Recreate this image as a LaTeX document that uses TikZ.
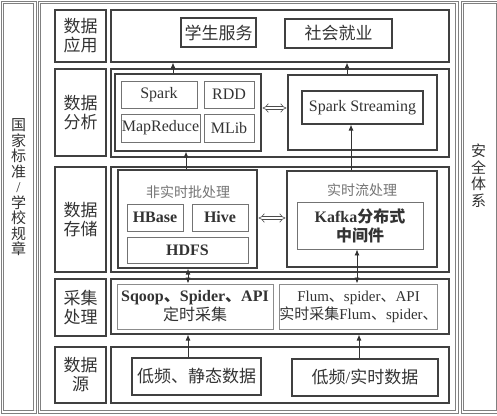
\documentclass[tikz,border=0pt]{standalone}
\usepackage{fontspec}
\setmainfont{Liberation Serif}
\newfontfamily\cjk{Noto Sans CJK SC}
\newcommand{\zh}[1]{{\cjk #1}}
\usetikzlibrary{arrows.meta}

\begin{document}
\begin{tikzpicture}[x=1pt,y=-1pt,
    sz/.style 2 args={minimum width=#1pt, minimum height=#2pt},
    outerbox/.style={draw=black!50, line width=0.8pt},
    box/.style={draw=black!75, line width=1.1pt, inner sep=0pt, text=black!80},
    subbox/.style={draw=black!55, line width=0.9pt, inner sep=0pt, text=black!80},
    lightbox/.style={draw=black!45, line width=1pt, inner sep=0pt, text=black!80},
    lbl/.style={box, sz={51}{#1}, align=center, font=\fontsize{17}{19}\selectfont},
    grouptitle/.style={text=black!55, font=\fontsize{14}{16}\selectfont},
    flow/.style={-{Latex[length=6pt,width=5pt]}, line width=0.9pt, black!80},
    flowboth/.style={{Latex[length=6pt,width=5pt]}-{Latex[length=6pt,width=5pt]}, line width=0.9pt, black!80},
    eqv/.style={double, double distance=2.6pt, line width=0.6pt, black!70, {Implies}-{Implies}, shorten <=1pt, shorten >=1pt}]

 \useasboundingbox (0,0) rectangle (497,415);

    % draw outer frames (two thin lines each)
    \foreach \d in {0,2.5} {
        \draw[outerbox] (1+\d,1+\d) rectangle (36-\d,413-\d);
        \draw[outerbox] (38+\d,1+\d) rectangle (458-\d,413-\d);
        \draw[outerbox] (461+\d,1+\d) rectangle (499-\d,413-\d);
    }
    \node (stdtext) at (18.5,187.5) [align=center, text=black!80, font=\fontsize{15}{15.5}\selectfont]
        {\zh{国}\\\zh{家}\\\zh{标}\\\zh{准}\\/\\\zh{学}\\\zh{校}\\\zh{规}\\\zh{章}};
    \node (safetext) at (478.5,175.5) [align=center, text=black!80, font=\fontsize{15}{16.5}\selectfont]
        {\zh{安}\\\zh{全}\\\zh{体}\\\zh{系}};

    % row labels
    \node[lbl=52]  (lblApp) at (80.5,36)    {\zh{数据}\\\zh{应用}};
    \node[lbl=87]  (lblAna) at (80.5,112.5) {\zh{数据}\\\zh{分析}};
    \node[lbl=105] (lblSto) at (80.5,219.5) {\zh{数据}\\\zh{存储}};
    \node[lbl=57]  (lblCol) at (80.5,307.5) {\zh{采集}\\\zh{处理}};
    \node[lbl=56]  (lblSrc) at (80.5,375)   {\zh{数据}\\\zh{源}};

    % row frames
    \node[box, sz={338}{52}]  (rowApp) at (280,36)    {};
    \node[box, sz={338}{88}]  (rowAna) at (280,113)   {};
    \node[box, sz={338}{105}] (rowSto) at (280,219.5) {};
    \node[box, sz={338}{55}]  (rowCol) at (280,306.5) {};
    \node[box, sz={338}{56}]  (rowSrc) at (280,375)   {};

    % data application
    \node[box, sz={75}{29}, font=\fontsize{17}{19}\selectfont]  (stu) at (218.5,32.5) {\zh{学生服务}};
    \node[box, sz={107}{29}, font=\fontsize{17}{19}\selectfont] (job) at (338.5,33.5) {\zh{社会就业}};

    % data analysis
    \node[box, sz={146}{77}] (batchAna) at (188,112.5) {};
    \node[box, sz={149}{75}] (streamAna) at (362.5,112.5) {};
    \node[subbox, sz={76}{27}, font=\fontsize{16}{18}\selectfont] (spark) at (159,94.5) {Spark};
    \node[subbox, sz={50}{27}, font=\fontsize{16}{18}\selectfont] (rdd) at (229,94.5) {RDD};
    \node[subbox, sz={79}{28}, font=\fontsize{16}{18}\selectfont] (mapred) at (160.5,128) {MapReduce};
    \node[subbox, sz={50}{28}, font=\fontsize{16}{18}\selectfont] (mlib) at (229,128) {MLib};
    \node[box, sz={121}{33}, font=\fontsize{16}{18}\selectfont] (sstream) at (362.5,107.5) {Spark Streaming};

    % data storage
    \node[box, sz={139}{98}] (batchSto) at (187.5,219) {};
    \node[box, sz={150}{96}] (streamSto) at (362,219) {};
    \node[grouptitle] (batchTitle) at (188,192) {\zh{非实时批处理}};
    \node[grouptitle] (streamTitle) at (362,190) {\zh{实时流处理}};
    \node[subbox, sz={56}{27}, font=\bfseries\fontsize{16}{18}\selectfont] (hbase) at (155,217.5) {HBase};
    \node[subbox, sz={56}{27}, font=\bfseries\fontsize{16}{18}\selectfont] (hive) at (220,217.5) {Hive};
    \node[subbox, sz={121}{26}, font=\bfseries\fontsize{16}{18}\selectfont] (hdfs) at (187.5,250) {HDFS};
    \node[subbox, sz={126}{47}, align=center, font=\bfseries\fontsize{16}{19}\selectfont] (kafka) at (360,225.5)
        {Kafka\zh{分布式}\\\zh{中间件}};

    % collection
    \node[lightbox, sz={156}{45}, align=center, font=\fontsize{16}{19}\selectfont] (sqoop) at (195,306.5)
        {\textbf{Sqoop\zh{、}Spider\zh{、}API}\\\zh{定时采集}};
    \node[lightbox, sz={157}{45}, align=center, font=\fontsize{15}{18}\selectfont] (flum) at (358.5,306.5)
        {Flum\zh{、}spider\zh{、}API\\\zh{实时采集}Flum\zh{、}spider\zh{、}};

    % data source
    \node[box, sz={129}{37}, font=\fontsize{17}{19}\selectfont] (low) at (196.5,376.5) {\zh{低频、静态数据}};
    \node[box, sz={146}{37}, font=\fontsize{17}{19}\selectfont] (rt) at (365,377.5) {\zh{低频}/\zh{实时数据}};

    % draw arrows
    \draw[flow] ([xshift=-15pt]batchAna.north) -- ([xshift=-15pt]batchAna.north |- rowApp.south);
    \draw[flow] ([xshift=-15.5pt]streamAna.north) -- ([xshift=-15.5pt]streamAna.north |- rowApp.south);
    \draw[flow] ([xshift=-1.5pt]batchSto.north) -- ([xshift=-1.5pt]batchSto.north |- batchAna.south);
    \draw[flow] ([xshift=-11pt]streamSto.north) -- ([xshift=-11pt]streamSto.north |- sstream.south);
    \draw[flowboth] ([xshift=-7pt]sqoop.north) -- ([xshift=-7pt]sqoop.north |- batchSto.south);
    \draw[flowboth] ([xshift=-3pt]kafka.south) -- ([xshift=-3pt]kafka.south |- flum.north);
    \draw[flow] ([xshift=-8.5pt]low.north) -- ([xshift=-8.5pt]low.north |- rowCol.south);
    \draw[flow] ([xshift=-6pt]rt.north) -- ([xshift=-6pt]rt.north |- rowCol.south);
    \draw[eqv] ([yshift=4.5pt]batchAna.east) -- ([yshift=4.5pt]batchAna.east -| streamAna.west);
    \draw[eqv] ([yshift=1pt]batchSto.east) -- ([yshift=1pt]batchSto.east -| streamSto.west);

\end{tikzpicture}
\end{document}
